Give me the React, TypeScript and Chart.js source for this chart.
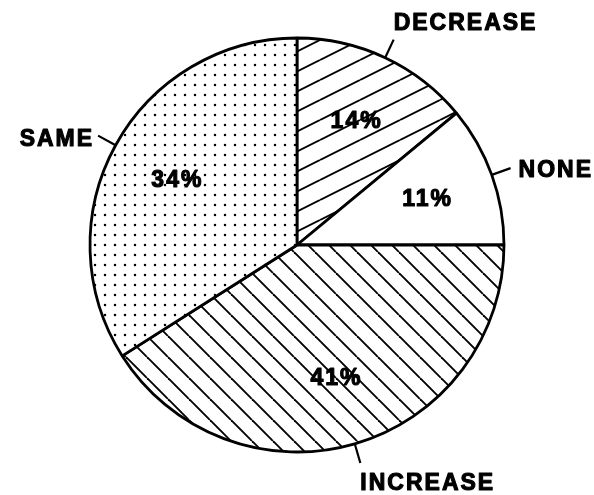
import React, { useEffect, useRef } from "react";
import { Chart, registerables } from "chart.js";

Chart.register(...registerables);

const categories = ["DECREASE", "NONE", "INCREASE", "SAME"];
const shares = [14, 11, 41, 34];
const percentLabels = ["14%", "11%", "41%", "34%"];
const fillKinds = ["slash", "none", "backslash", "dots"];

function makePattern(kind: string): CanvasPattern | string {
  if (kind === "none") return "#ffffff";
  const c = document.createElement("canvas");
  const ctx = c.getContext("2d")!;
  if (kind === "slash") {
    c.width = 40;
    c.height = 20;
    ctx.fillStyle = "#fff";
    ctx.fillRect(0, 0, 40, 20);
    ctx.strokeStyle = "#000";
    ctx.lineWidth = 1.9;
    for (const off of [-20, 0, 20]) {
      ctx.beginPath();
      ctx.moveTo(0, 20 + off);
      ctx.lineTo(40, off);
      ctx.stroke();
    }
  } else if (kind === "backslash") {
    c.width = 21;
    c.height = 21;
    ctx.fillStyle = "#fff";
    ctx.fillRect(0, 0, 21, 21);
    ctx.strokeStyle = "#000";
    ctx.lineWidth = 1.9;
    for (const off of [-21, 0, 21]) {
      ctx.beginPath();
      ctx.moveTo(off, 0);
      ctx.lineTo(off + 21, 21);
      ctx.stroke();
    }
  } else {
    c.width = 10;
    c.height = 10;
    ctx.fillStyle = "#fff";
    ctx.fillRect(0, 0, 10, 10);
    ctx.fillStyle = "#000";
    ctx.beginPath();
    ctx.arc(5, 5, 1.25, 0, Math.PI * 2);
    ctx.fill();
  }
  return ctx.createPattern(c, "repeat")!;
}

const FONT = "bold 23px 'Liberation Sans', Arial, sans-serif";

function drawText(ctx: CanvasRenderingContext2D, text: string, x: number, y: number) {
  ctx.fillText(text, x, y);
  ctx.strokeText(text, x, y);
}

const labelPlugin = {
  id: "sliceLabels",
  afterDatasetsDraw(chart: any) {
    const ctx: CanvasRenderingContext2D = chart.ctx;
    const meta = chart.getDatasetMeta(0);
    ctx.save();
    ctx.font = FONT;
    (ctx as any).letterSpacing = "2px";
    ctx.fillStyle = "#000";
    ctx.strokeStyle = "#000";
    ctx.lineJoin = "round";
    meta.data.forEach((arc: any, i: number) => {
      const { x, y, startAngle, endAngle, outerRadius } = arc.getProps(
        ["x", "y", "startAngle", "endAngle", "outerRadius"],
        true
      );
      const mid = (startAngle + endAngle) / 2;
      const cos = Math.cos(mid);
      const sin = Math.sin(mid);
      // percent label inside
      const pr = outerRadius * 0.665;
      ctx.textAlign = "center";
      ctx.textBaseline = "alphabetic";
      ctx.lineWidth = 1.1;
      drawText(ctx, percentLabels[i], x + cos * pr + 1, y + sin * pr + 8);
      // leader line
      const r2 = outerRadius + 20;
      const sx = x + cos * outerRadius;
      const sy = y + sin * outerRadius;
      const ex = x + cos * r2;
      const ey = y + sin * r2;
      ctx.lineWidth = 2.2;
      ctx.beginPath();
      ctx.moveTo(sx, sy);
      ctx.lineTo(ex, ey);
      ctx.stroke();
      ctx.lineWidth = 1.1;
      let deg = ((mid + Math.PI / 2) * 180) / Math.PI;
      deg = ((deg % 360) + 360) % 360;
      if (deg < 45 || deg > 315) {
        ctx.textAlign = "left";
        drawText(ctx, categories[i], ex, ey - 10);
      } else if (deg < 135) {
        ctx.textAlign = "left";
        drawText(ctx, categories[i], ex + 8, ey + 9);
      } else if (deg < 225) {
        ctx.textAlign = "left";
        drawText(ctx, categories[i], ex, ey + 27);
      } else {
        ctx.textAlign = "right";
        drawText(ctx, categories[i], ex - 4, ey + 10);
      }
    });
    ctx.restore();
  },
};

export default function App() {
  const ref = useRef<HTMLCanvasElement | null>(null);
  useEffect(() => {
    if (!ref.current) return;
    const chart = new Chart(ref.current, {
      type: "pie",
      data: {
        labels: categories,
        datasets: [
          {
            data: shares,
            backgroundColor: fillKinds.map(makePattern) as any,
            borderColor: "#000",
            borderWidth: 2.8,
            radius: 207,
          } as any,
        ],
      },
      options: {
        responsive: false,
        animation: false,
        radius: 207,
        layout: { padding: { top: 0, bottom: 5, left: 0, right: 0 } },
        plugins: { legend: { display: false }, tooltip: { enabled: false } },
      } as any,
      plugins: [labelPlugin],
    });
    return () => chart.destroy();
  }, []);
  return (
    <div style={{ position: "fixed", left: 0, top: 0, width: 594, height: 495, background: "#fff" }}>
      <canvas ref={ref} width={594} height={495} style={{ display: "block" }} />
    </div>
  );
}
